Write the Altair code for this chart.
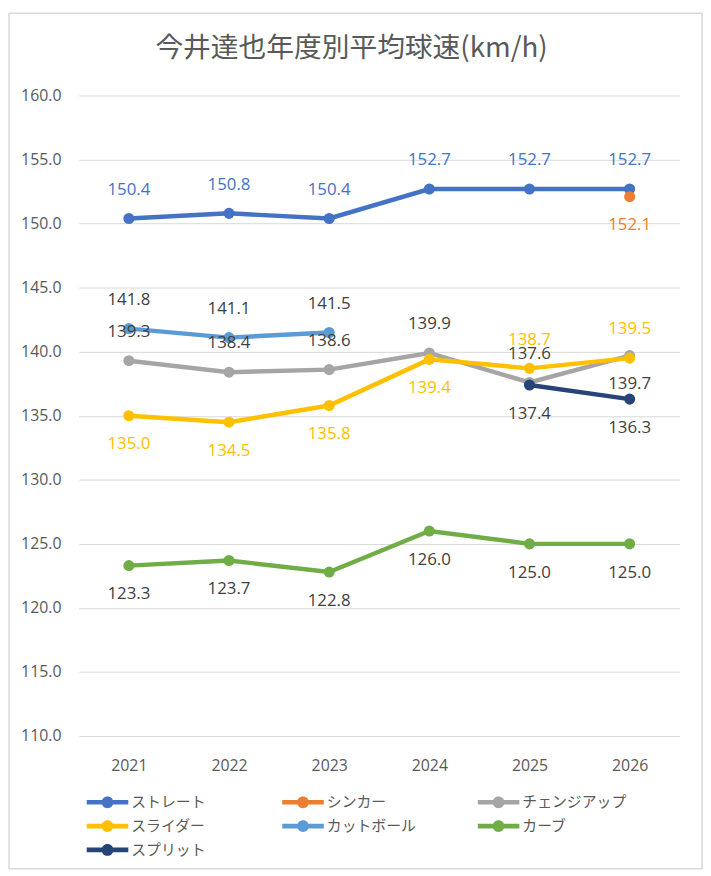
import altair as alt
import pandas as pd

years = ["2021", "2022", "2023", "2024", "2025", "2026"]
series = ["ストレート", "シンカー", "チェンジアップ", "スライダー", "カットボール", "カーブ", "スプリット"]
straight = [150.4, 150.8, 150.4, 152.7, 152.7, 152.7]
sinker = [None, None, None, None, None, 152.1]
changeup = [139.3, 138.4, 138.6, 139.9, 137.6, 139.7]
slider = [135.0, 134.5, 135.8, 139.4, 138.7, 139.5]
cutter = [141.8, 141.1, 141.5, None, None, None]
curve = [123.3, 123.7, 122.8, 126.0, 125.0, 125.0]
split = [None, None, None, None, 137.4, 136.3]
values = [straight, sinker, changeup, slider, cutter, curve, split]

# style: line colours, label colours, label placement (a = above, b = below)
colors = ["#4472C4", "#ED7D31", "#A5A5A5", "#FFC000", "#5B9BD5", "#70AD47", "#264478"]
label_colors = ["#4472C4", "#ED7D31", "#404040", "#FFC000", "#404040", "#404040", "#404040"]
label_pos = [
    ["a"] * 6,
    ["b"] * 6,
    ["a", "a", "a", "a", "a", "b"],
    ["b", "b", "b", "b", "a", "a"],
    ["a"] * 6,
    ["b"] * 6,
    ["b"] * 6,
]

rows = []
for s, vals, lc, lp in zip(series, values, label_colors, label_pos):
    for y, v, p in zip(years, vals, lp):
        if v is not None:
            rows.append({"year": y, "series": s, "v": v, "lc": lc, "pos": p})
df = pd.DataFrame(rows)

W, H = 607, 647
PAD_L, PAD_T, PAD_R, PAD_B = 71.5, 84, 23.5, 135
FONT_JP = "Noto Sans CJK JP"
FONT_NUM = "Open Sans"

x = alt.X("year:O", sort=years, title=None,
          axis=alt.Axis(labelAngle=0, domain=False, ticks=False, labelPadding=22,
                        labelFont=FONT_NUM, labelFontSize=16, labelColor="#595959"))
y = alt.Y("v:Q", title=None,
          scale=alt.Scale(domain=[110, 160], nice=False, zero=False),
          axis=alt.Axis(values=[110, 115, 120, 125, 130, 135, 140, 145, 150, 155, 160],
                        format=".1f", domain=False, ticks=False, labelPadding=18,
                        labelFont=FONT_NUM, labelFontSize=16, labelColor="#595959",
                        gridColor="#D9D9D9", gridWidth=1))
color_scale = alt.Scale(domain=series, range=colors)

# legend symbol: line with a dot, drawn in a 24px box and extending to the right
legend_path = ("M-1,-0.19 H2.5 V0.19 H-1 Z "
               "M0.25,0 A0.5,0.5 0 1,1 1.25,0 A0.5,0.5 0 1,1 0.25,0 Z")
legend = alt.Legend(title=None, orient="none", legendX=8, legendY=702,
                    columns=3, direction="horizontal",
                    symbolType=legend_path, symbolSize=576,
                    symbolStrokeWidth=0, symbolOpacity=1,
                    labelFont=FONT_JP, labelFontSize=15,
                    labelColor="#595959", labelOffset=21,
                    rowPadding=4, columnPadding=46.5,
                    gridAlign="all", padding=0)
color = alt.Color("series:N", scale=color_scale, sort=series, legend=legend)

base = alt.Chart(df)

lines = base.mark_line(strokeWidth=4.5).encode(
    x=x, y=y, color=color, detail="series:N",
)

points = base.mark_circle(size=125, opacity=1).encode(
    x=x, y=y, color=color,
)

labels_above = base.transform_filter(alt.datum.pos == "a").mark_text(
    dy=-29, font=FONT_NUM, fontSize=17).encode(
    x=x, y=y, text=alt.Text("v:Q", format=".1f"), color=alt.Color("lc:N", scale=None))
labels_below = base.transform_filter(alt.datum.pos == "b").mark_text(
    dy=29, font=FONT_NUM, fontSize=17).encode(
    x=x, y=y, text=alt.Text("v:Q", format=".1f"), color=alt.Color("lc:N", scale=None))

frame = alt.Chart(pd.DataFrame({"a": [0]})).mark_rect(
    fillOpacity=0, stroke="#D9D9D9", strokeWidth=1.5).encode(
    x=alt.value(-PAD_L + 1), x2=alt.value(W + PAD_R - 1),
    y=alt.value(-PAD_T + 1), y2=alt.value(H + PAD_B - 1))

chart = alt.layer(frame, lines, points, labels_above, labels_below).properties(
    width=W, height=H,
    autosize=alt.AutoSizeParams(type="none"),
    padding={"left": PAD_L, "top": PAD_T, "right": PAD_R, "bottom": PAD_B},
    title=alt.TitleParams("今井達也年度別平均球速(km/h)", font=FONT_JP, fontSize=28,
                          fontWeight="normal", color="#595959", anchor="middle",
                          frame="group", offset=24, dx=-28, dy=75),
).configure(background="white").configure_view(stroke=None)

chart.save("out.html", embed_options={"renderer": "svg", "actions": False})
